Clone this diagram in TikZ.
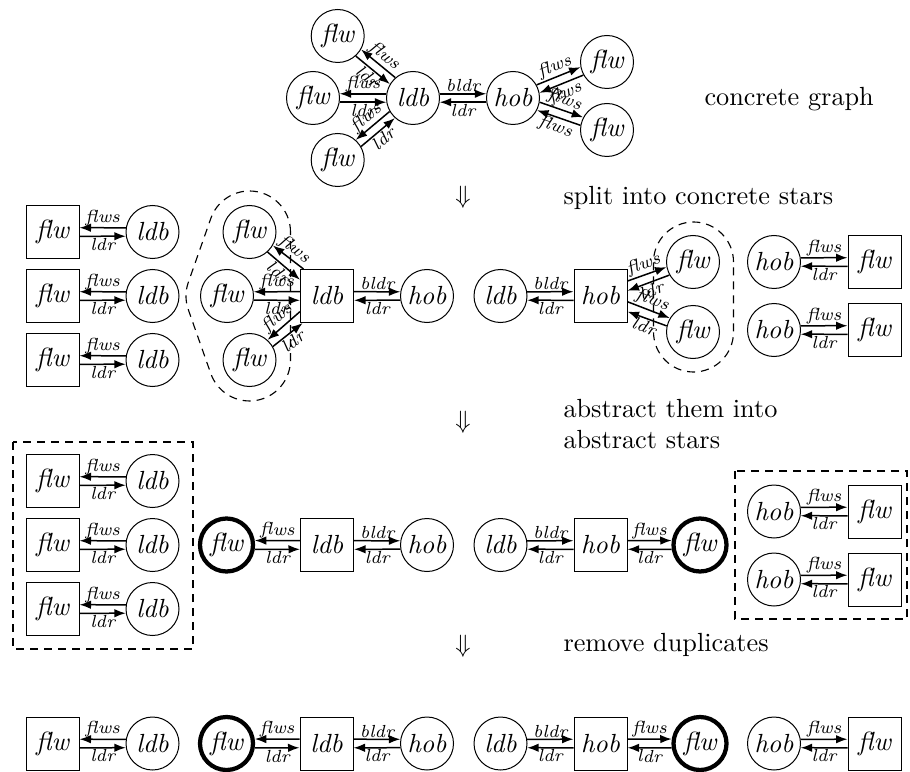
\documentclass[tikz,border=0pt]{standalone}
\usetikzlibrary{arrows.meta,calc}
\tikzset{
  cnode/.style={circle,draw,line width=0.4pt,minimum size=21.2pt,inner sep=0pt,font=\fontsize{10.5}{12}\selectfont\itshape},
  snode/.style={rectangle,draw,line width=0.4pt,minimum size=21.2pt,inner sep=0pt,font=\fontsize{10.5}{12}\selectfont\itshape},
  knode/.style={circle,draw,line width=1.7pt,minimum size=21.2pt,inner sep=0pt,font=\fontsize{10.5}{12}\selectfont\itshape},
  edg/.style={line width=0.6pt},
  lab/.style={font=\scriptsize\itshape,inner sep=0.5pt},
  tipR/.style={-{Latex[length=4.6pt,width=3.4pt]}},
  tipL/.style={{Latex[length=4.6pt,width=3.4pt]}-},
  captext/.style={anchor=west,align=left,inner sep=0pt,font=\fontsize{10.5}{12.6}\selectfont},
  grp/.style={line width=0.45pt,dash pattern=on 3.2pt off 2.4pt},
}
\newcommand\pairR[4]{%
  \draw[edg,tipR] let \p1=(#1.center), \p2=(#2.center), \n1={atan2(\y2-\y1,\x2-\x1)}, \n2={\n1+9}, \n3={\n1+171} in (#1.\n2) -- node[lab,above,sloped]{#3} (#2.\n3);%
  \draw[edg,tipL] let \p1=(#1.center), \p2=(#2.center), \n1={atan2(\y2-\y1,\x2-\x1)}, \n2={\n1-9}, \n3={\n1+189} in (#1.\n2) -- node[lab,below,sloped]{#4} (#2.\n3);%
}
\newcommand\pairL[4]{%
  \draw[edg,tipL] let \p1=(#1.center), \p2=(#2.center), \n1={atan2(\y2-\y1,\x2-\x1)}, \n2={\n1+9}, \n3={\n1+171} in (#1.\n2) -- node[lab,above,sloped]{#3} (#2.\n3);%
  \draw[edg,tipR] let \p1=(#1.center), \p2=(#2.center), \n1={atan2(\y2-\y1,\x2-\x1)}, \n2={\n1-9}, \n3={\n1+189} in (#1.\n2) -- node[lab,below,sloped]{#4} (#2.\n3);%
}
\begin{document}
\begin{tikzpicture}[x=0.4pt,y=-0.4pt]
\useasboundingbox (0,0) rectangle (910,771);

% ---------- concrete graph ----------
\node[cnode] (tldb) at (413,98) {ldb};
\node[cnode] (thob) at (513,98) {hob};
\node[cnode] (tfa) at (337.7,36) {flw};
\node[cnode] (tfb) at (313,98) {flw};
\node[cnode] (tfc) at (337.7,160) {flw};
\node[cnode] (tfd) at (607,62) {flw};
\node[cnode] (tfe) at (607,130) {flw};
\pairL{tfa}{tldb}{flws}{ldr}
\pairL{tfb}{tldb}{flws}{ldr}
\pairL{tfc}{tldb}{flws}{ldr}
\pairR{tldb}{thob}{bldr}{ldr}
\pairR{thob}{tfd}{flws}{flws}
\pairR{thob}{tfe}{flws}{flws}
\node[captext] (c1) at (704,99) {concrete graph};

% ---------- captions ----------
\node (d1) at (463,197) {$\Downarrow$};
\node[captext] (c2) at (563,198) {split into concrete stars};
\node (d2) at (463,422) {$\Downarrow$};
\node[captext] (c3) at (563,424) {abstract them into\\abstract stars};
\node (d3) at (463,646) {$\Downarrow$};
\node[captext] (c4) at (563,645) {remove duplicates};

% ---------- row 2 ----------
\foreach \i/\yy in {a/232,b/296,c/360}{
  \node[snode] (sf\i) at (52.5,\yy) {flw};
  \node[cnode] (sl\i) at (152.5,\yy) {ldb};
  \pairL{sf\i}{sl\i}{flws}{ldr}
}
\node[cnode] (mfa) at (249.5,232) {flw};
\node[cnode] (mfb) at (227,296) {flw};
\node[cnode] (mfc) at (249.5,360) {flw};
\node[snode] (mldb) at (327,296) {ldb};
\node[cnode] (mhob) at (427,296) {hob};
\pairL{mfa}{mldb}{flws}{ldr}
\pairL{mfb}{mldb}{flws}{ldr}
\pairL{mfc}{mldb}{flws}{ldr}
\pairR{mldb}{mhob}{bldr}{ldr}
\draw[grp] (290.5,232) arc[start angle=0,end angle=-160.6,radius=41]
  -- (188.3,282.4) arc[start angle=-160.6,end angle=-199.4,radius=41]
  -- (210.8,373.6) arc[start angle=-199.4,end angle=-360,radius=41] -- cycle;

\node[cnode] (nldb) at (500.5,296) {ldb};
\node[snode] (nhob) at (600.5,296) {hob};
\node[cnode] (nfa) at (693,262) {flw};
\node[cnode] (nfb) at (693,332) {flw};
\pairR{nldb}{nhob}{bldr}{ldr}
\pairR{nhob}{nfa}{flws}{ldr}
\pairR{nhob}{nfb}{flws}{ldr}
\draw[grp] (733.5,262) arc[start angle=0,end angle=-180,radius=40]
  -- (653.5,332) arc[start angle=180,end angle=0,radius=40] -- cycle;

\foreach \i/\yy in {a/262,b/330}{
  \node[cnode] (rh\i) at (774,\yy) {hob};
  \node[snode] (rf\i) at (874.5,\yy) {flw};
  \pairR{rh\i}{rf\i}{flws}{ldr}
}

% ---------- row 3 ----------
\foreach \i/\yy in {a/481,b/545,c/609}{
  \node[snode] (af\i) at (52.5,\yy) {flw};
  \node[cnode] (al\i) at (152.5,\yy) {ldb};
  \pairL{af\i}{al\i}{flws}{ldr}
}
\draw[grp] (13,442) rectangle (193,649);
\node[knode] (bflw) at (226.5,545) {flw};
\node[snode] (bldb) at (327,545) {ldb};
\node[cnode] (bhob) at (427,545) {hob};
\pairL{bflw}{bldb}{flws}{ldr}
\pairR{bldb}{bhob}{bldr}{ldr}
\node[cnode] (eldb) at (500.5,545) {ldb};
\node[snode] (ehob) at (600.5,545) {hob};
\node[knode] (eflw) at (700,545) {flw};
\pairR{eldb}{ehob}{bldr}{ldr}
\pairR{ehob}{eflw}{flws}{ldr}
\foreach \i/\yy in {a/511.5,b/579.5}{
  \node[cnode] (gh\i) at (774,\yy) {hob};
  \node[snode] (gf\i) at (874.5,\yy) {flw};
  \pairR{gh\i}{gf\i}{flws}{ldr}
}
\draw[grp] (735,471) rectangle (907,619);

% ---------- row 4 ----------
\node[snode] (uf) at (52.5,743.5) {flw};
\node[cnode] (ul) at (152.5,743.5) {ldb};
\pairL{uf}{ul}{flws}{ldr}
\node[knode] (vflw) at (226.5,743.5) {flw};
\node[snode] (vldb) at (326.5,743.5) {ldb};
\node[cnode] (vhob) at (427,743.5) {hob};
\pairL{vflw}{vldb}{flws}{ldr}
\pairR{vldb}{vhob}{bldr}{ldr}
\node[cnode] (wldb) at (500.5,743.5) {ldb};
\node[snode] (whob) at (600.5,743.5) {hob};
\node[knode] (wflw) at (700,743.5) {flw};
\pairR{wldb}{whob}{bldr}{ldr}
\pairR{whob}{wflw}{flws}{ldr}
\node[cnode] (xh) at (774,743.5) {hob};
\node[snode] (xf) at (874.5,743.5) {flw};
\pairR{xh}{xf}{flws}{ldr}
\end{tikzpicture}
\end{document}
